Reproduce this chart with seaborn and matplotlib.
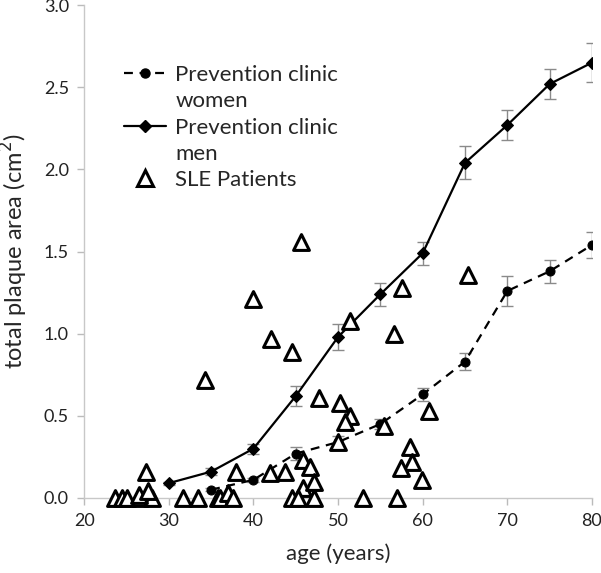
import matplotlib.pyplot as plt
from matplotlib.lines import Line2D
import pandas as pd
import seaborn as sns

sns.set_style('white')
plt.rcParams['font.family'] = ['Lato', 'DejaVu Sans']

# Prevention clinic means with error bars
men_age = [30, 35, 40, 45, 50, 55, 60, 65, 70, 75, 80]
men_area = [0.09, 0.16, 0.30, 0.62, 0.98, 1.24, 1.49, 2.04, 2.27, 2.52, 2.65]
men_err = [0.01, 0.02, 0.03, 0.06, 0.08, 0.07, 0.07, 0.10, 0.09, 0.09, 0.12]

women_age = [35, 40, 45, 50, 55, 60, 65, 70, 75, 80]
women_area = [0.05, 0.11, 0.27, 0.34, 0.45, 0.63, 0.83, 1.26, 1.38, 1.54]
women_err = [0.01, 0.01, 0.04, 0.04, 0.03, 0.04, 0.05, 0.09, 0.07, 0.08]

# SLE patients
sle_age = [23.7, 24.5, 25.1, 26.6, 28.0, 26.5, 27.6, 27.3,
           31.7, 33.5, 35.8, 36.1, 37.0, 37.6, 38.0, 34.3,
           39.9, 42.1, 44.6, 41.9, 43.7, 45.6, 45.8, 46.7, 45.9, 47.2,
           44.5, 45.3, 47.1, 53.0, 57.0, 47.8, 50.2, 51.4, 50.8, 50.0,
           51.4, 56.6, 55.4, 60.8, 58.5, 58.7, 57.4, 59.9, 57.6, 65.3]
sle_area = [0.0, 0.0, 0.0, 0.0, 0.0, 0.02, 0.04, 0.16,
            0.0, 0.0, 0.0, 0.0, 0.03, 0.0, 0.16, 0.72,
            1.21, 0.97, 0.89, 0.15, 0.16, 1.56, 0.23, 0.19, 0.06, 0.10,
            0.0, 0.0, 0.0, 0.0, 0.0, 0.61, 0.58, 0.50, 0.46, 0.34,
            1.08, 1.00, 0.44, 0.53, 0.31, 0.22, 0.18, 0.11, 1.28, 1.36]

men = pd.DataFrame({'age': men_age, 'area': men_area})
women = pd.DataFrame({'age': women_age, 'area': women_area})
sle = pd.DataFrame({'age': sle_age, 'area': sle_area})

fig = plt.figure(figsize=(6.01, 5.73), dpi=100)
ax = fig.add_axes([0.14, 0.131, 0.845, 0.86])

ax.errorbar(women_age, women_area, yerr=women_err, fmt='none',
            ecolor='#8a8a8a', elinewidth=1, capsize=4, zorder=2)
ax.errorbar(men_age, men_area, yerr=men_err, fmt='none',
            ecolor='#8a8a8a', elinewidth=1, capsize=4, zorder=2)

sns.lineplot(data=women, x='age', y='area', ax=ax, color='black',
             linestyle=(0, (4, 3)), linewidth=1.6, marker='o',
             markersize=6.5, markeredgecolor='black', zorder=3)
sns.lineplot(data=men, x='age', y='area', ax=ax, color='black',
             linewidth=1.6, marker='D', markersize=6,
             markeredgecolor='black', zorder=3)
sns.scatterplot(data=sle, x='age', y='area', ax=ax, marker='^', s=130,
                facecolor='white', edgecolor='black', linewidth=2.2,
                zorder=4, clip_on=False)

ax.set_xlim(20, 80)
ax.set_ylim(0, 3)
ax.set_xticks([20, 30, 40, 50, 60, 70, 80])
ax.set_yticks([0, 0.5, 1.0, 1.5, 2.0, 2.5, 3.0])
ax.set_yticklabels(['0.0', '0.5', '1.0', '1.5', '2.0', '2.5', '3.0'])
ax.tick_params(axis='both', labelsize=13, colors='#bbbbbb', labelcolor='#222222',
               length=5, width=1, direction='out', bottom=True, left=True, pad=6)

sns.despine(ax=ax)
for side in ['left', 'bottom']:
    ax.spines[side].set_color('#c8c8c8')
    ax.spines[side].set_linewidth(1)

ax.set_xlabel('age (years)', fontsize=16, labelpad=10)
ax.set_ylabel('total plaque area (cm$^2$)', fontsize=17, labelpad=10)

blank = Line2D([], [], linestyle='none')
handles = [
    Line2D([], [], color='black', linestyle=(0, (4, 3)), linewidth=1.6,
           marker='o', markersize=6.5),
    blank,
    Line2D([], [], color='black', linewidth=1.6, marker='D', markersize=6),
    blank,
    Line2D([], [], linestyle='none', marker='^', markersize=11,
           markerfacecolor='white', markeredgecolor='black', markeredgewidth=2.2),
]
labels = ['Prevention clinic', 'women', 'Prevention clinic', 'men', 'SLE Patients']
ax.legend(handles, labels, loc='upper left', bbox_to_anchor=(0.079, 0.878),
          frameon=False, fontsize=16, handlelength=1.9, handletextpad=0.4,
          labelspacing=0.28, borderaxespad=0, borderpad=0)

plt.savefig('out.png', dpi=100)
